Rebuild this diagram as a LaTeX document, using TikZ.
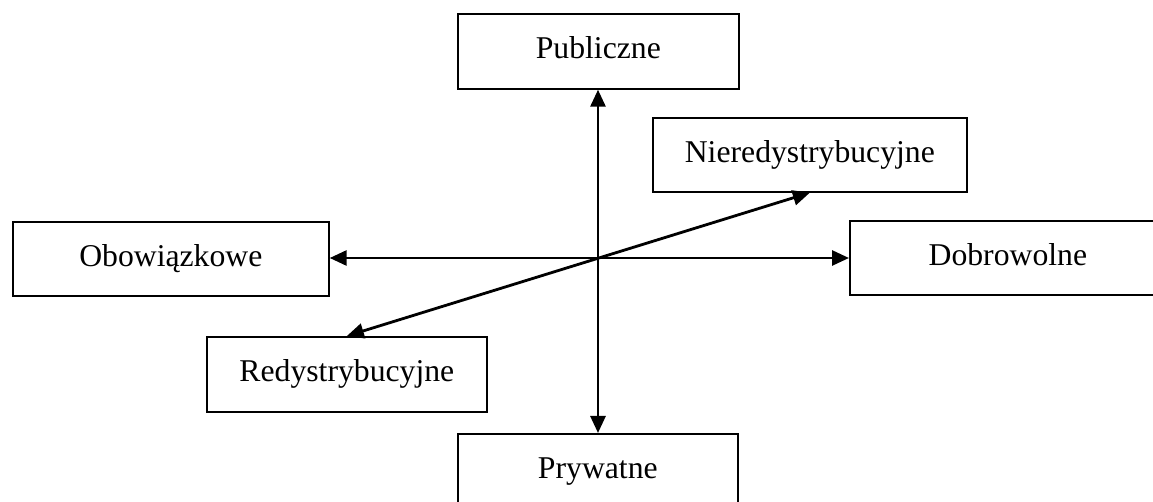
\documentclass[tikz,border=0pt]{standalone}
\usepackage{fontspec}
\setmainfont{Liberation Serif}
\usetikzlibrary{arrows.meta}

\tikzset{
  catbox/.style={draw, line width=0.85pt, anchor=north west, inner xsep=0pt, inner ysep=0pt,
    text height=22.5pt, font=\fontsize{15.85}{19}\selectfont},
  biarrow/.style={line width=1.4pt, {Triangle[length=8.5pt,width=7.5pt]}-{Triangle[length=8.5pt,width=7.5pt]}}
}

\begin{document}
\begin{tikzpicture}[x=0.5pt, y=-0.5pt]
  \useasboundingbox (0,0) rectangle (1153,502);

  % category boxes (positions in pixel units, top-left corners)
  \node[catbox, minimum width=140.5pt, text depth=15pt] (pub) at (457,13) {Publiczne};
  \node[catbox, minimum width=157pt, text depth=14.5pt] (nie) at (652,117) {Nieredystrybucyjne};
  \node[catbox, minimum width=158pt, text depth=14.5pt] (obo) at (12,221) {Obowiązkowe};
  \node[catbox, minimum width=158pt, text depth=14.5pt] (dob) at (849,220) {Dobrowolne};
  \node[catbox, minimum width=140pt, text depth=15pt] (red) at (206,336) {Redystrybucyjne};
  \node[catbox, minimum width=140pt, text depth=15pt] (pry) at (457,433) {Prywatne};

  % crossing point of the axes
  \coordinate (c) at (598,258);

  % axes
  \draw[biarrow] (c |- pub.south) -- (c |- pry.north);
  \draw[biarrow] (obo.east |- c) -- (dob.west |- c);
  \draw[biarrow] (nie.south) -- (red.north);
\end{tikzpicture}
\end{document}
